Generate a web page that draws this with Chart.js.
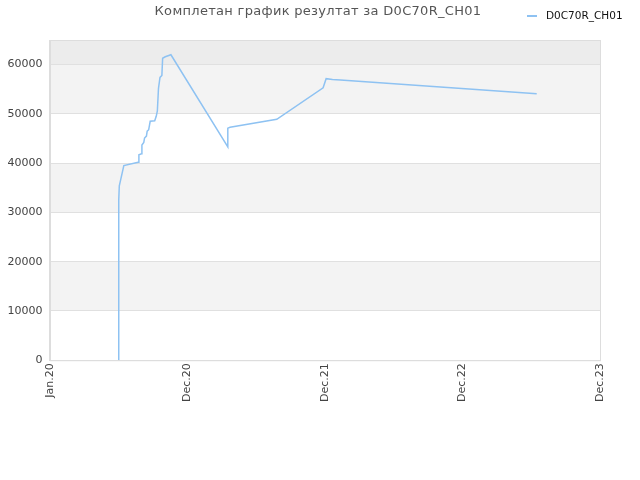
<!DOCTYPE html>
<html>
<head>
<meta charset="utf-8">
<script src="https://cdn.jsdelivr.net/npm/chart.js@4/dist/chart.umd.min.js"></script>
<style>
  html, body { margin: 0; padding: 0; background: #fff; }
  #wrap { width: 640px; height: 480px; }
</style>
</head>
<body>
<div id="wrap"><canvas id="resultChart"></canvas></div>
<script>
// naslov i serija
var chartTitle = 'Комплетан график резултат за D0C70R_CH01';
var seriesName = 'D0C70R_CH01';

// datumi i rezultati (očitano sa slike)
var dates = [
  '2020-07-01', '2020-07-01', '2020-07-01', '2020-07-02', '2020-07-02', '2020-07-03',
  '2020-07-15', '2020-08-22', '2020-08-24', '2020-08-31', '2020-09-01', '2020-09-06',
  '2020-09-08', '2020-09-13', '2020-09-15', '2020-09-19', '2020-09-23', '2020-10-05',
  '2020-10-09', '2020-10-12', '2020-10-15', '2020-10-19', '2020-10-24', '2020-10-26',
  '2020-11-02', '2020-11-17', '2021-04-17', '2021-04-17', '2021-04-23', '2021-08-25',
  '2021-12-26', '2022-01-03', '2022-01-20', '2022-02-10', '2023-07-16'
];
var scores = [
  0, 20100, 15900, 20300, 32500, 35400,
  39500, 40200, 41700, 41900, 43700, 44200,
  45100, 45500, 46500, 46800, 48500, 48600,
  49500, 50600, 55200, 57400, 57800, 61300,
  61600, 62000, 43300, 47100, 47300, 48900,
  55300, 57150, 57000, 56880, 54100
];

// x osa: dani od 1.1.2020, podeok na 365 dana
var tickLabels = ['Jan.20', 'Dec.20', 'Dec.21', 'Dec.22', 'Dec.23'];
var tickStepDays = 365;
var yTicks = [0, 10000, 20000, 30000, 40000, 50000, 60000];
var yMax = 65000;

var lineColor = '#8ec2f2';

var startMs = Date.UTC(2020, 0, 1);
function toDay(s) {
  var p = s.split('-');
  return (Date.UTC(+p[0], +p[1] - 1, +p[2]) - startMs) / 86400000;
}

var points = dates.map(function (d, i) {
  return { x: toDay(d), y: scores[i] };
});

// pozadinske trake, okvir, naslov i legenda
var bandPlugin = {
  id: 'bands',
  beforeDraw: function (chart) {
    var c = chart.ctx, a = chart.chartArea, y = chart.scales.y;
    var edges = yTicks.concat([yMax]);
    c.save();
    for (var i = 0; i < edges.length - 1; i++) {
      var top = y.getPixelForValue(edges[i + 1]);
      var bot = y.getPixelForValue(edges[i]);
      if (i === edges.length - 2) c.fillStyle = '#ececec';
      else c.fillStyle = (i % 2 === 1) ? '#f3f3f3' : '#ffffff';
      c.fillRect(a.left, top, a.right - a.left, bot - top);
    }
    c.restore();
  },
  afterDraw: function (chart) {
    var c = chart.ctx, a = chart.chartArea;
    c.save();
    c.strokeStyle = '#dddddd';
    c.lineWidth = 1;
    c.strokeRect(a.left + 0.5, a.top + 0.5, a.right - a.left, a.bottom - a.top);

    c.fillStyle = '#555555';
    c.font = '13px "DejaVu Sans"';
    c.textAlign = 'center';
    c.textBaseline = 'middle';
    if (c.letterSpacing !== undefined) c.letterSpacing = '0.3px';
    c.fillText(chartTitle, 318, 12);
    if (c.letterSpacing !== undefined) c.letterSpacing = '0px';

    c.strokeStyle = lineColor;
    c.lineWidth = 2;
    c.beginPath();
    c.moveTo(527, 16);
    c.lineTo(537, 16);
    c.stroke();
    c.fillStyle = '#111111';
    c.font = '10.5px "DejaVu Sans"';
    c.textAlign = 'left';
    c.fillText(seriesName, 546, 16);
    c.restore();
  }
};

new Chart(document.getElementById('resultChart'), {
  type: 'line',
  data: {
    datasets: [{
      label: seriesName,
      data: points,
      borderColor: lineColor,
      backgroundColor: lineColor,
      borderWidth: 1.5,
      pointRadius: 0,
      tension: 0,
      fill: false
    }]
  },
  options: {
    responsive: true,
    maintainAspectRatio: false,
    animation: false,
    layout: { padding: { left: 0, right: 40, top: 40, bottom: 75 } },
    plugins: {
      title: { display: false },
      tooltip: { enabled: false },
      legend: { display: false }
    },
    scales: {
      x: {
        type: 'linear',
        min: 0,
        max: tickStepDays * (tickLabels.length - 1),
        afterBuildTicks: function (axis) {
          axis.ticks = tickLabels.map(function (l, i) { return { value: i * tickStepDays }; });
        },
        ticks: {
          autoSkip: false,
          minRotation: 90,
          maxRotation: 90,
          color: '#444',
          font: { family: 'DejaVu Sans', size: 11 },
          callback: function (v) { return tickLabels[Math.round(v / tickStepDays)]; }
        },
        grid: { display: false, drawTicks: false },
        border: { color: '#dddddd' }
      },
      y: {
        min: 0,
        max: yMax,
        afterBuildTicks: function (axis) {
          axis.ticks = yTicks.map(function (v) { return { value: v }; });
        },
        ticks: {
          color: '#444',
          padding: 7.5,
          font: { family: 'DejaVu Sans', size: 11 },
          callback: function (v) { return String(v); }
        },
        grid: { color: '#e0e0e0', drawTicks: false },
        border: { color: '#dddddd' }
      }
    }
  },
  plugins: [bandPlugin]
});
</script>
</body>
</html>
